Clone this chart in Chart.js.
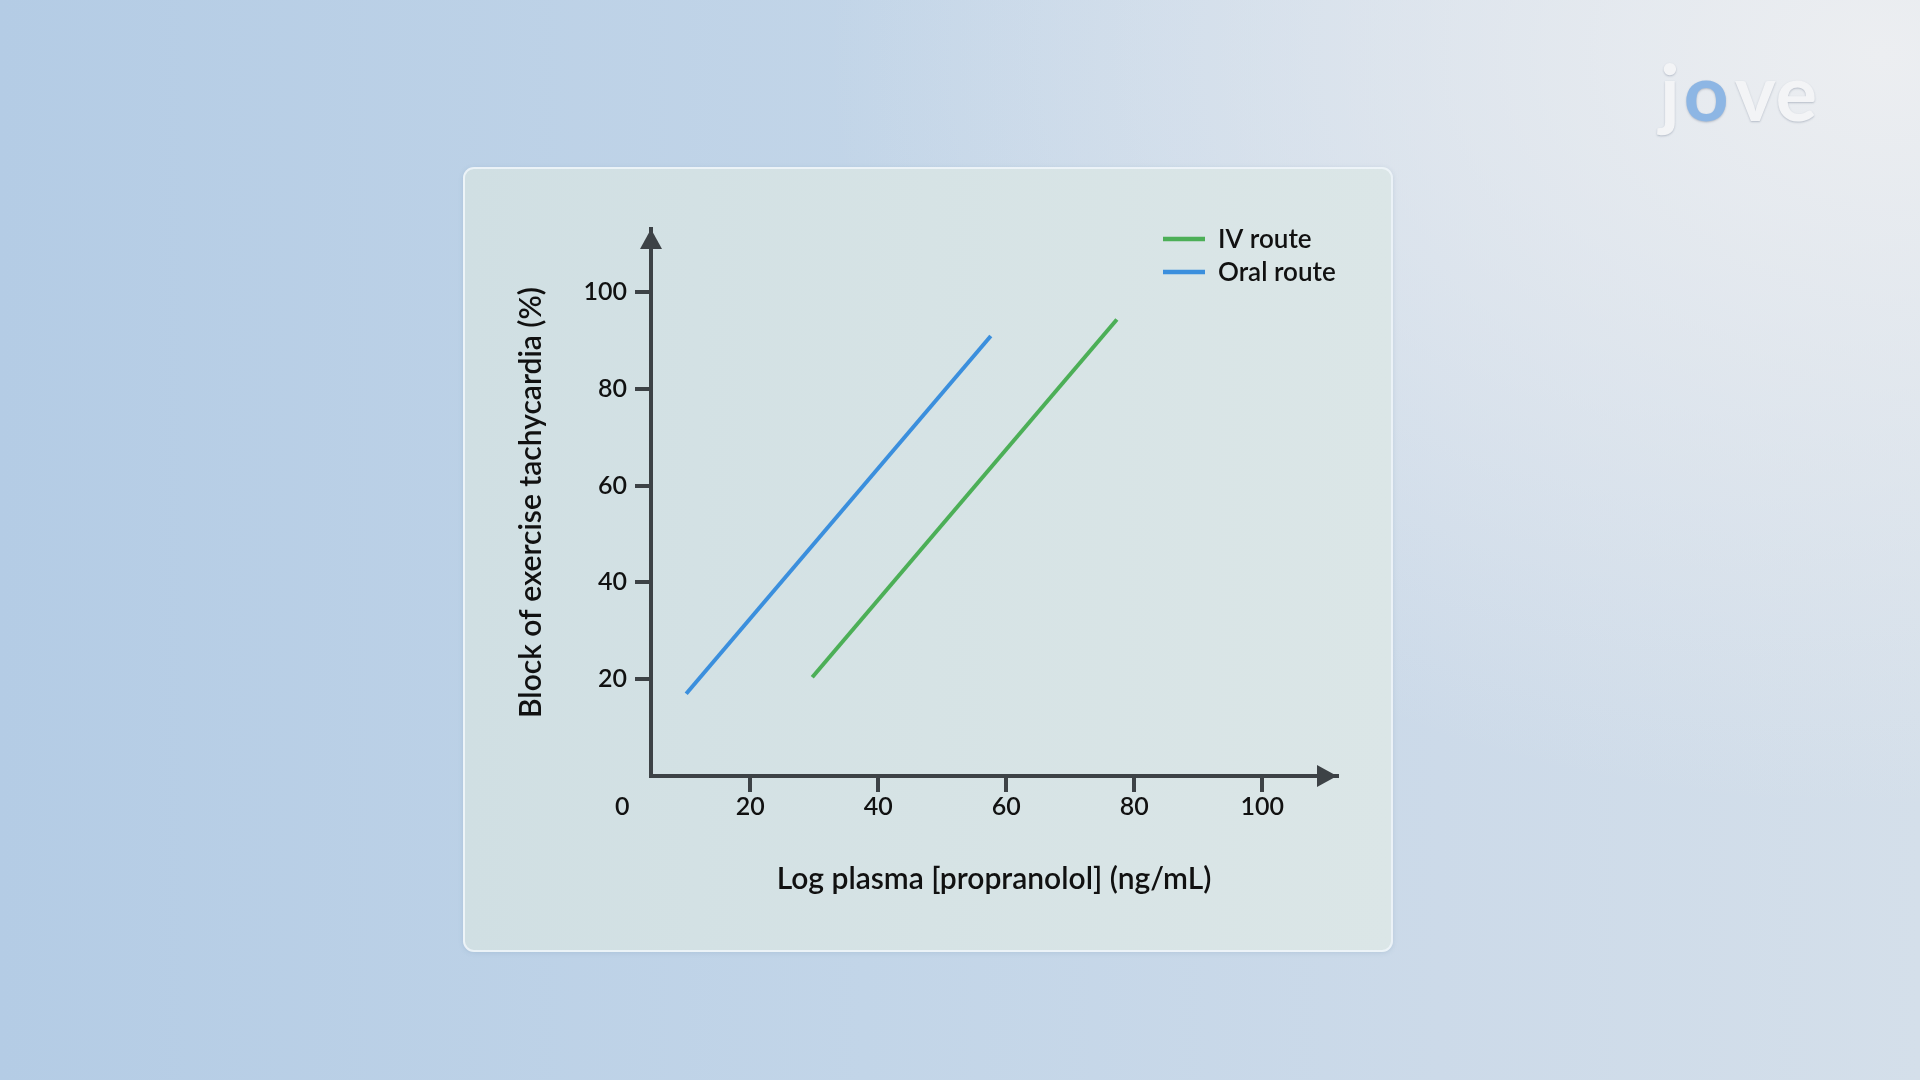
<!DOCTYPE html>
<html>
<head>
<meta charset="utf-8">
<script src="https://cdn.jsdelivr.net/npm/chart.js@4.4.1/dist/chart.umd.min.js"></script>
<style>
  html, body { margin:0; padding:0; width:1920px; height:1080px; overflow:hidden; }
  body {
    background:
      radial-gradient(ellipse 55% 70% at 98% 5%, rgba(236,238,241,1) 0%, rgba(236,238,241,0) 100%),
      linear-gradient(90deg, #b4cce5 0%, #c2d5e8 45%, #ccdae9 75%, #d4dfea 100%);
    font-family: Lato, "Noto Sans", sans-serif;
    position: relative;
  }
  #card {
    position:absolute; left:463px; top:167px; width:926px; height:781px;
    background: linear-gradient(90deg, #d0dfe3 0%, #d6e3e5 50%, #dbe6e7 100%);
    border: 2px solid rgba(240,246,250,0.85);
    border-radius: 11px;
    box-shadow: 0 1px 4px rgba(120,150,180,0.25);
  }
  #logo {
    position:absolute; left:1660px; top:44px; font-family: Lato, sans-serif; font-weight:700;
    font-size:78px; color:#f3f4f6; letter-spacing:1px;
    text-shadow: 0 1px 2px rgba(120,130,150,0.45);
  }
  #logo .o { color:#8db6e4; padding:0 5px 0 3px; }
  canvas { position:absolute; left:0; top:0; }
</style>
</head>
<body>
<div id="card"></div>
<div id="logo">j<span class="o">o</span>ve</div>
<canvas id="c" width="1920" height="1080"></canvas>
<script>
// ---- data ----
const seriesLabels = ['IV route', 'Oral route'];
const ivX   = [29.7, 77.3];
const ivY   = [20.4, 94.3];
const oralX = [10.0, 57.6];
const oralY = [17.0, 90.9];
const xTickValues = [0, 20, 40, 60, 80, 100];
const yTickValues = [20, 40, 60, 80, 100];
const xTitle = 'Log plasma [propranolol] (ng/mL)';
const yTitle = 'Block of exercise tachycardia (%)';

// ---- styles ----
const GREEN = '#4caf57';
const BLUE = '#3b8fdd';
const AXIS = '#3d4246';
const TEXT = '#111111';
const FONT = 'Lato';
const WEIGHT = 600;

const toPts = (xs, ys) => xs.map((x, i) => ({ x: x, y: ys[i] }));

const arrowPlugin = {
  id: 'arrows',
  afterDraw(chart) {
    const ctx = chart.ctx;
    const xs = chart.scales.x, ys = chart.scales.y;
    const ax = xs.getPixelForValue(xs.min);
    const ay = ys.getPixelForValue(ys.min);
    const topY = ys.getPixelForValue(ys.max);
    const rightX = xs.getPixelForValue(xs.max);
    ctx.save();
    ctx.fillStyle = AXIS;
    ctx.beginPath();
    ctx.moveTo(ax, topY);
    ctx.lineTo(ax - 11, topY + 20);
    ctx.lineTo(ax + 11, topY + 20);
    ctx.closePath();
    ctx.fill();
    ctx.beginPath();
    ctx.moveTo(rightX, ay);
    ctx.lineTo(rightX - 20, ay - 11);
    ctx.lineTo(rightX - 20, ay + 11);
    ctx.closePath();
    ctx.fill();
    ctx.restore();
  }
};

const legendPlugin = {
  id: 'cornerLegend',
  afterDraw(chart) {
    const ctx = chart.ctx;
    ctx.save();
    ctx.font = WEIGHT + ' 26px ' + FONT;
    ctx.textBaseline = 'middle';
    ctx.textAlign = 'left';
    chart.data.datasets.forEach((ds, i) => {
      const y = 239 + i * 33;
      ctx.strokeStyle = ds.borderColor;
      ctx.lineWidth = 4.5;
      ctx.beginPath();
      ctx.moveTo(1163, y);
      ctx.lineTo(1205, y);
      ctx.stroke();
      ctx.fillStyle = TEXT;
      ctx.fillText(ds.label, 1218, y + 1);
    });
    ctx.restore();
  }
};

new Chart(document.getElementById('c'), {
  type: 'scatter',
  data: {
    datasets: [
      { label: seriesLabels[0], data: toPts(ivX, ivY), showLine: true, borderColor: GREEN, backgroundColor: GREEN,
        borderWidth: 4, pointRadius: 0, tension: 0 },
      { label: seriesLabels[1], data: toPts(oralX, oralY), showLine: true, borderColor: BLUE, backgroundColor: BLUE,
        borderWidth: 4, pointRadius: 0, tension: 0 }
    ]
  },
  options: {
    responsive: false,
    animation: false,
    devicePixelRatio: 1,
    layout: { padding: { left: 511, right: 583, top: 229, bottom: 164 } },
    plugins: { legend: { display: false }, tooltip: { enabled: false } },
    scales: {
      x: {
        type: 'linear', min: 4.5, max: 111.7,
        afterBuildTicks: s => { s.ticks = xTickValues.map(v => ({ value: v })); },
        afterFit: s => { s.height = 140; },
        ticks: { autoSkip: false, maxRotation: 0, padding: 0, color: TEXT, font: { family: FONT, size: 25, weight: WEIGHT } },
        grid: { drawOnChartArea: false, tickLength: 16, lineWidth: 4,
                tickColor: c => (c.tick && c.tick.value === 0) ? 'rgba(0,0,0,0)' : AXIS },
        border: { display: true, color: AXIS, width: 4 },
        title: { display: true, text: xTitle, color: TEXT, font: { family: FONT, size: 30, weight: WEIGHT }, padding: { top: 0, bottom: 19 } }
      },
      y: {
        type: 'linear', min: 0, max: 113.0,
        afterBuildTicks: s => { s.ticks = yTickValues.map(v => ({ value: v })); },
        afterFit: s => { s.width = 140; },
        ticks: { autoSkip: false, padding: 8, color: TEXT, font: { family: FONT, size: 25, weight: WEIGHT } },
        grid: { drawOnChartArea: false, tickLength: 16, lineWidth: 4, tickColor: AXIS },
        border: { display: true, color: AXIS, width: 4 },
        title: { display: true, text: yTitle, color: TEXT, font: { family: FONT, size: 30, weight: WEIGHT }, padding: { top: 2, bottom: 0 } }
      }
    }
  },
  plugins: [arrowPlugin, legendPlugin]
});
</script>
</body>
</html>
